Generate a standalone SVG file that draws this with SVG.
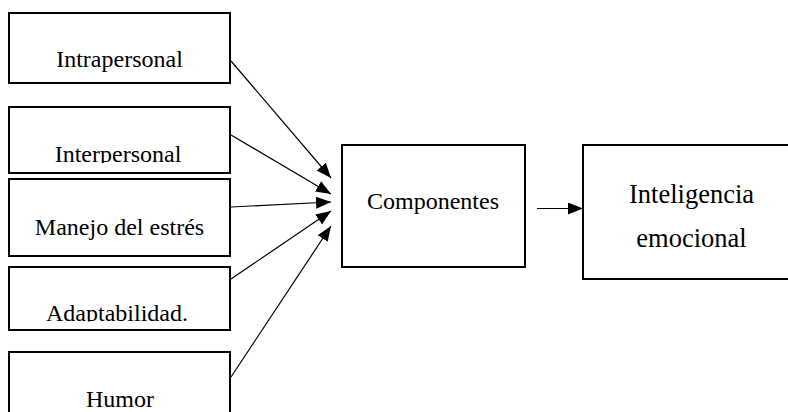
<svg xmlns="http://www.w3.org/2000/svg" width="788" height="412" viewBox="0 0 788 412">
<style>
.box{fill:#fff;stroke:#000;stroke-width:2}
text{font-family:'Liberation Serif','Times New Roman',Times,serif;fill:#000;text-anchor:middle}
.t{font-size:24px}
.t2{font-size:26.5px}
.c{stroke:#000;stroke-width:1.2;fill:none;marker-end:url(#ah)}
</style>
<defs>
<marker id="ah" markerUnits="userSpaceOnUse" markerWidth="16" markerHeight="14" refX="15" refY="6" orient="auto">
<path d="M0,0 L15,6 L0,12 Z" fill="#000"/>
</marker>
<clipPath id="clip2"><rect x="0" y="100" width="240" height="63"/></clipPath>
<clipPath id="clip4"><rect x="0" y="260" width="240" height="61.5"/></clipPath>
</defs>
<rect width="788" height="412" fill="#fff"/>
<g id="n-intrapersonal">
<rect class="box" x="9" y="13" width="221" height="70"/>
<text class="t" x="119.5" y="67">Intrapersonal</text>
</g>
<g id="n-interpersonal">
<rect class="box" x="9" y="107" width="221" height="66"/>
<text class="t" x="118" y="162" clip-path="url(#clip2)">Interpersonal</text>
</g>
<g id="n-manejo">
<rect class="box" x="9" y="179" width="221" height="77"/>
<text class="t" x="119.5" y="235">Manejo del estrés</text>
</g>
<g id="n-adaptabilidad">
<rect class="box" x="9" y="267" width="221" height="63"/>
<text class="t" x="117" y="321" clip-path="url(#clip4)">Adaptabilidad.</text>
</g>
<g id="n-humor">
<rect class="box" x="9" y="352" width="221" height="80"/>
<text class="t" x="120" y="407">Humor</text>
</g>
<g id="n-componentes">
<rect class="box" x="342" y="145" width="183" height="122"/>
<text class="t" x="433" y="209">Componentes</text>
</g>
<g id="n-inteligencia">
<rect class="box" x="583" y="145" width="220" height="134"/>
<text class="t2" x="691.5" y="203">Inteligencia</text>
<text class="t2" x="691.5" y="247">emocional</text>
</g>
<g id="connectors">
<line class="c" x1="231" y1="61" x2="331" y2="178"/>
<line class="c" x1="231" y1="135" x2="331" y2="194"/>
<line class="c" x1="231" y1="207" x2="331" y2="202"/>
<line class="c" x1="231" y1="279" x2="331" y2="211"/>
<line class="c" x1="231" y1="377" x2="331" y2="226"/>
<line class="c" x1="537" y1="208.5" x2="583" y2="208.5"/>
</g>
</svg>
